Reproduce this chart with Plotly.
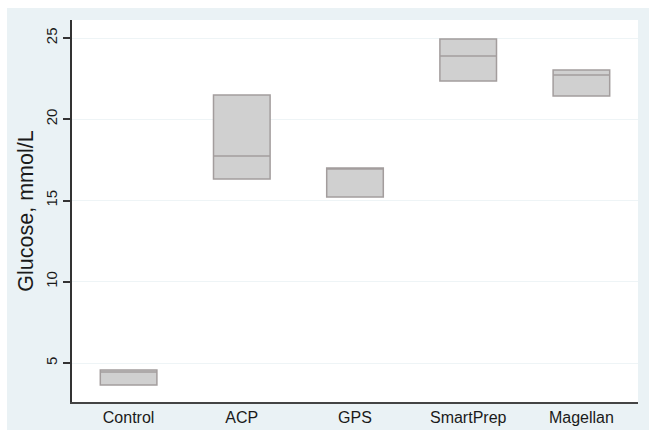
import plotly.graph_objects as go

categories = ["Control", "ACP", "GPS", "SmartPrep", "Magellan"]
q1_vals = [3.65, 16.32, 15.22, 22.35, 21.43]
median_vals = [4.45, 17.74, 17.0, 23.89, 22.72]
q3_vals = [4.57, 21.49, 17.0, 24.94, 23.03]
y_ticks = [5, 10, 15, 20, 25]

W, H = 649, 438
L, R, T, B = 72, 11, 20, 36
pw, ph = W - L - R, H - T - B

fig = go.Figure()
fig.add_trace(go.Box(
    x=categories,
    q1=q1_vals, median=median_vals, q3=q3_vals,
    lowerfence=q1_vals, upperfence=q3_vals,
    fillcolor="#d0d0d0",
    line=dict(color="#a39d9d", width=1.5),
    width=0.5,
    boxpoints=False,
    hoverinfo="skip",
    showlegend=False,
))

def px(x):
    return (x - L) / pw

def py(y):
    return (H - B - y) / ph

fig.add_shape(type="rect", xref="paper", yref="paper", layer="below",
              x0=px(7), x1=px(649), y0=py(430), y1=py(8),
              fillcolor="#eaf2f5", line=dict(width=0))
fig.add_shape(type="rect", xref="paper", yref="paper", layer="below",
              x0=0, x1=1, y0=0, y1=1,
              fillcolor="#ffffff", line=dict(width=0))

fig.update_layout(
    width=W, height=H,
    margin=dict(l=L, r=R, t=T, b=B, autoexpand=False),
    paper_bgcolor="#ffffff",
    plot_bgcolor="#ffffff",
    font=dict(family="Liberation Sans, Arial, sans-serif", color="#1a1a1a"),
    xaxis=dict(
        showgrid=False, zeroline=False, automargin=False,
        showline=True, linecolor="#444444", linewidth=2,
        ticks="", tickfont=dict(size=16),
        range=[-0.5, 4.5],
    ),
    yaxis=dict(
        range=[2.6, 26.11],
        tickvals=y_ticks,
        tickangle=-90,
        automargin=False,
        tickfont=dict(size=15),
        ticks="outside", ticklen=7, tickwidth=1.5, tickcolor="#333333",
        showline=True, linecolor="#333333", linewidth=1.5,
        showgrid=True, gridcolor="#eef4f6", gridwidth=1,
        zeroline=False,
        title=dict(text="Glucose, mmol/L", font=dict(size=21.5), standoff=4),
    ),
)

fig.write_html("out.html", config={"displayModeBar": False},
               post_script="document.body.style.margin='0';")
